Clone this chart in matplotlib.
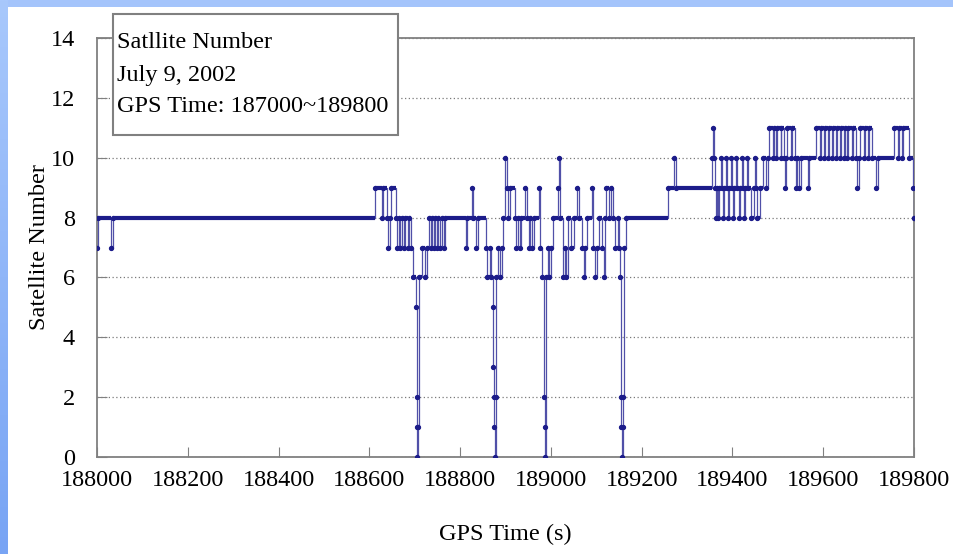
import numpy as np
import matplotlib
matplotlib.use("Agg")
import matplotlib.pyplot as plt
from matplotlib.patches import Rectangle

# GPS time (s) where the satellite count changes, and the count from there on
gps_time = [
    188000, 188003, 188031, 188035, 188612, 188628, 188631, 188639, 188642, 188645,
    188648, 188658, 188662, 188665, 188668, 188671, 188676, 188679, 188685, 188688,
    188692, 188696, 188702, 188704, 188705, 188706, 188708, 188709, 188716, 188722,
    188727, 188731, 188735, 188738, 188742, 188745, 188749, 188752, 188756, 188759,
    188764, 188767, 188812, 188815, 188826, 188829, 188836, 188839, 188856, 188860,
    188866, 188869, 188872, 188873, 188874, 188875, 188876, 188878, 188880, 188884,
    188888, 188892, 188895, 188899, 188904, 188906, 188909, 188920, 188924, 188927,
    188932, 188935, 188944, 188947, 188952, 188955, 188958, 188962, 188974, 188977,
    188981, 188985, 188986, 188987, 188989, 188993, 188996, 189000, 189005, 189015,
    189018, 189021, 189027, 189030, 189034, 189037, 189045, 189050, 189058, 189061,
    189068, 189072, 189076, 189080, 189090, 189093, 189097, 189101, 189106, 189112,
    189116, 189120, 189122, 189128, 189132, 189136, 189142, 189147, 189150, 189153,
    189154, 189155, 189156, 189158, 189159, 189160, 189166, 189258, 189271, 189275,
    189355, 189357, 189359, 189361, 189363, 189366, 189369, 189371, 189374, 189376,
    189379, 189382, 189385, 189387, 189390, 189393, 189396, 189398, 189401, 189404,
    189408, 189410, 189414, 189417, 189421, 189423, 189426, 189428, 189432, 189434,
    189441, 189448, 189450, 189452, 189455, 189461, 189468, 189474, 189478, 189481,
    189490, 189492, 189497, 189499, 189506, 189508, 189513, 189515, 189518, 189521,
    189529, 189531, 189537, 189540, 189543, 189547, 189550, 189566, 189569, 189585,
    189594, 189596, 189602, 189604, 189611, 189613, 189619, 189621, 189628, 189630,
    189637, 189639, 189645, 189647, 189653, 189655, 189663, 189665, 189673, 189675,
    189678, 189680, 189689, 189691, 189699, 189701, 189708, 189717, 189720, 189756,
    189765, 189767, 189773, 189775, 189788, 189797, 189799, 189800,
]
sat_count = [
    7, 8, 7, 8, 9, 8, 9, 8, 7, 8,
    9, 8, 7, 8, 7, 8, 7, 8, 7, 8,
    7, 6, 5, 2, 1, 0, 1, 6, 7, 6,
    7, 8, 7, 8, 7, 8, 7, 8, 7, 8,
    7, 8, 7, 8, 9, 8, 7, 8, 7, 6,
    7, 6, 5, 3, 2, 1, 0, 2, 6, 7,
    6, 7, 8, 10, 9, 8, 9, 8, 7, 8,
    7, 8, 9, 8, 7, 8, 7, 8, 9, 7,
    6, 2, 1, 0, 6, 7, 6, 7, 8, 9,
    10, 8, 6, 7, 6, 8, 7, 8, 9, 8,
    7, 6, 7, 8, 9, 7, 6, 7, 8, 7,
    6, 8, 9, 8, 9, 8, 7, 8, 7, 6,
    2, 1, 0, 1, 2, 7, 8, 9, 10, 9,
    10, 11, 10, 9, 8, 9, 8, 9, 10, 9,
    8, 9, 10, 9, 8, 9, 10, 9, 8, 9,
    10, 9, 8, 9, 10, 9, 8, 9, 10, 9,
    8, 9, 10, 9, 8, 9, 10, 9, 10, 11,
    10, 11, 10, 11, 10, 11, 10, 9, 10, 11,
    10, 11, 10, 9, 10, 9, 10, 9, 10, 11,
    10, 11, 10, 11, 10, 11, 10, 11, 10, 11,
    10, 11, 10, 11, 10, 11, 10, 11, 10, 9,
    10, 11, 10, 11, 10, 11, 10, 9, 10, 11,
    10, 11, 10, 11, 10, 9, 8, 8,
]

x_ticks = [188000, 188200, 188400, 188600, 188800, 189000, 189200, 189400, 189600, 189800]
y_ticks = [0, 2, 4, 6, 8, 10, 12, 14]
info_lines = ["Satllite Number", "July 9, 2002", "GPS Time: 187000~189800"]

plt.rcParams["font.family"] = ["Liberation Serif", "DejaVu Serif"]
FS = 17.5

fig = plt.figure(figsize=(9.54, 5.54), dpi=100)
fig.patch.set_facecolor("white")

# light blue slide frame (top strip + left gradient strip)
top = fig.add_axes([0, 1 - 7 / 554, 1, 7 / 554])
top.set_facecolor("#a4c4fb")
top.set_xticks([]); top.set_yticks([])
for s in top.spines.values():
    s.set_visible(False)
side = fig.add_axes([0, 0, 8 / 954, 1])
grad = np.linspace(0, 1, 256).reshape(-1, 1)
cmap = matplotlib.colors.LinearSegmentedColormap.from_list("frame", ["#a8c8fc", "#78a4f4"])
side.imshow(grad, aspect="auto", cmap=cmap)
side.axis("off")

ax = fig.add_axes([97 / 954, 1 - 457 / 554, 817 / 954, 419 / 554])

t = np.array(gps_time)
v = np.array(sat_count)
ax.plot(t, v, drawstyle="steps-post", color="#5050a8", lw=0.9, zorder=3)
ax.hlines(v[:-1], t[:-1], t[1:], colors="#1c1c8a", lw=3, zorder=4)
ax.plot(t, v, "o", color="#1c1c8a", ms=2.8, zorder=5)

ax.set_xlim(188000, 189800)
ax.set_ylim(0, 14)
ax.set_xticks(x_ticks)
ax.set_yticks(y_ticks)
ax.tick_params(direction="in", length=7, color="#808080", labelsize=FS)
ax.tick_params(axis="y", pad=16)
ax.tick_params(axis="x", pad=9)
ax.xaxis.set_major_formatter(matplotlib.ticker.FormatStrFormatter("%d"))
for s in ax.spines.values():
    s.set_color("#808080")
    s.set_linewidth(1.3)
ax.yaxis.grid(True, linestyle=(0, (1, 2)), color="#7a7a7a", lw=0.9)
ax.set_axisbelow(True)

ax.set_xlabel("GPS Time (s)", fontsize=FS)
ax.xaxis.set_label_coords(0.5, -0.16)
ax.set_ylabel("Satellite Number", fontsize=FS)
ax.yaxis.set_label_coords(-0.058, 0.5)

# info box above the plot area
box = Rectangle((113 / 954, 1 - 135 / 554), 285 / 954, 121 / 554, transform=fig.transFigure,
                facecolor="white", edgecolor="#808080", lw=1.5, zorder=10)
fig.patches.append(box)
for i, line in enumerate(info_lines):
    fig.text(117 / 954, 1 - (43 + 32 * i) / 554, line, fontsize=FS, va="center", ha="left", zorder=11)

fig.savefig("out.png", dpi=100)
